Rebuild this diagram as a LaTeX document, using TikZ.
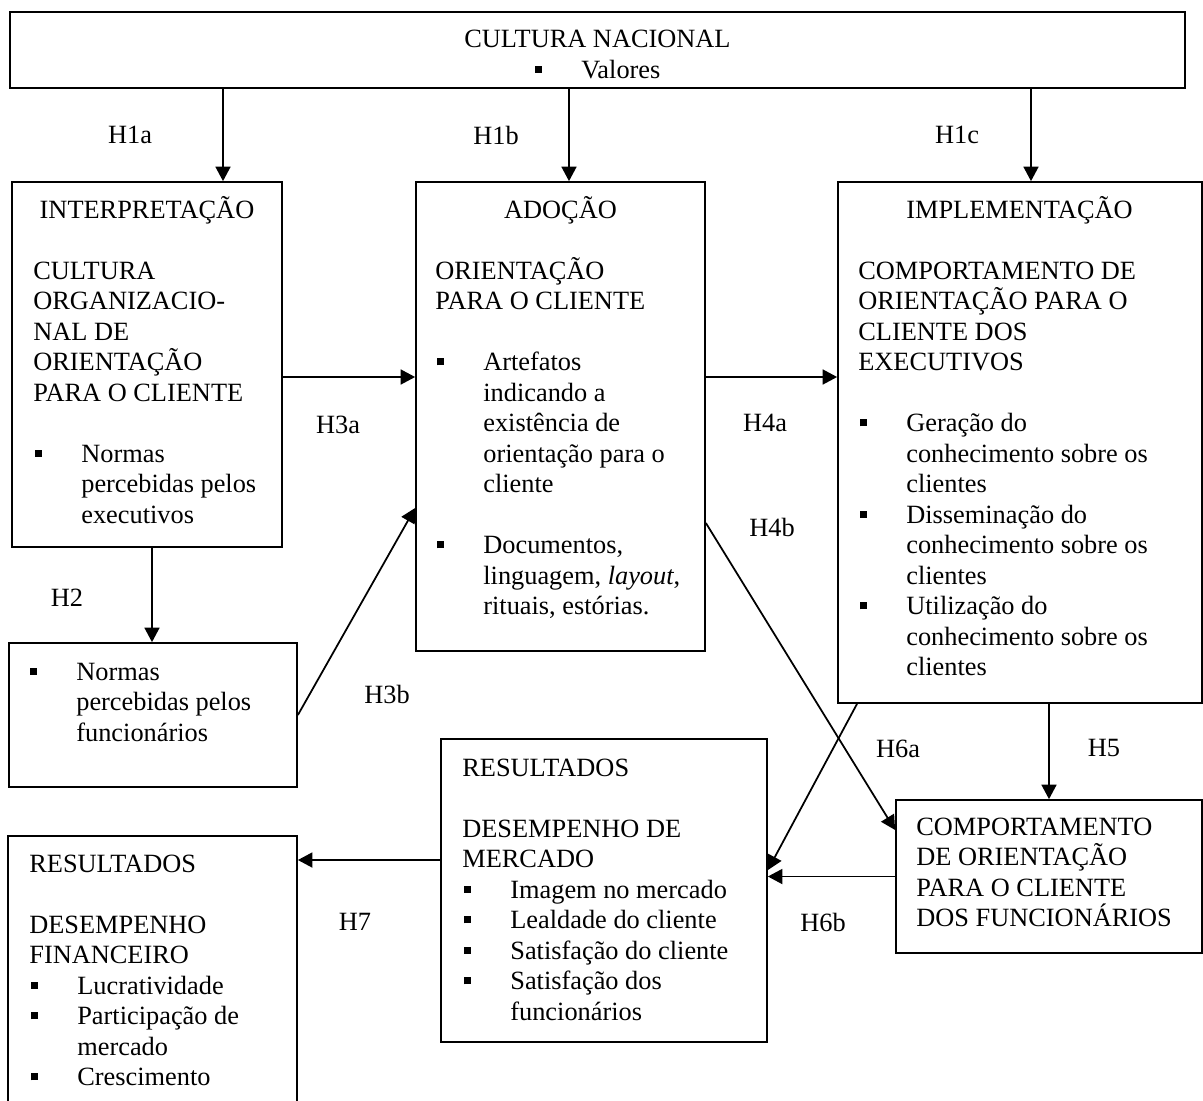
\documentclass[tikz,border=0pt]{standalone}
\usepackage{fontspec}
\setmainfont{Liberation Serif}
\usetikzlibrary{arrows.meta,fit}
\newcommand{\fs}{\fontsize{15}{17.36}\selectfont}
\newcommand{\sqbul}{\makebox[0.96cm][l]{\hspace{0.04cm}\rule[0.105cm]{0.14cm}{0.14cm}}}
\newcommand{\sqind}{\hspace*{0.96cm}}
\newcommand{\gap}{\\[0.61cm]}
\tikzset{
  box/.style={draw, line width=1pt, inner sep=0pt},
  txt/.style={anchor=base west, inner sep=0pt, font=\fs},
  ttl/.style={anchor=base, inner sep=0pt, font=\fs},
  lab/.style={font=\fs},
  arr/.style={-{Triangle[length=0.29cm,width=0.3cm]}, line width=1pt}
}
\begin{document}
\begin{tikzpicture}[x=0.02cm, y=-0.02cm]
      \useasboundingbox (0,0) rectangle (1203,1100);
      \clip (0,0) rectangle (1203,1100);
      \node[box, fit={(10,12) (1185,88)}] (nacional) {};
      \node[box, fit={(12,182) (282,547)}] (interp) {};
      \node[box, fit={(416,182) (705,651)}] (adocao) {};
      \node[box, fit={(838,182) (1202,703)}] (implem) {};
      \node[box, fit={(9,643) (297,787)}] (normfunc) {};
      \node[box, fit={(441,739) (767,1042)}] (mercado) {};
      \node[box, fit={(896,800) (1202,953)}] (comport) {};
      \node[box, fit={(8,836) (297,1130)}] (financ) {};

      \node[ttl] (nacional-t) at (597.5,47) {CULTURA NACIONAL};
      \node[txt] (nacional-v) at (533,78) {\sqbul Valores};
      \node[ttl] (interp-t) at (147,218) {INTERPRETAÇÃO};
      \node[ttl] (adocao-t) at (560.5,218) {ADOÇÃO};
      \node[ttl] (implem-t) at (1019.5,218) {IMPLEMENTAÇÃO};

      \node[txt] (interp-x) at (33,279) {\parbox[t]{8cm}{\raggedright
        CULTURA\\ ORGANIZACIO-\\ NAL DE\\ ORIENTAÇÃO\\ PARA O CLIENTE\gap
        \sqbul Normas\\ \sqind percebidas pelos\\ \sqind executivos}};
      \node[txt] (adocao-x) at (435,279) {\parbox[t]{8cm}{\raggedright
        ORIENTAÇÃO\\ PARA O CLIENTE\gap
        \sqbul Artefatos\\ \sqind indicando a\\ \sqind existência de\\
        \sqind orientação para o\\ \sqind cliente\gap
        \sqbul Documentos,\\ \sqind linguagem, \textit{layout},\\ \sqind rituais, estórias.}};
      \node[txt] (implem-x) at (858,279) {\parbox[t]{8cm}{\raggedright
        COMPORTAMENTO DE\\ ORIENTAÇÃO PARA O\\ CLIENTE DOS\\ EXECUTIVOS\gap
        \sqbul Geração do\\ \sqind conhecimento sobre os\\ \sqind clientes\\
        \sqbul Disseminação do\\ \sqind conhecimento sobre os\\ \sqind clientes\\
        \sqbul Utilização do\\ \sqind conhecimento sobre os\\ \sqind clientes}};
      \node[txt] (normfunc-x) at (28,680) {\parbox[t]{8cm}{\raggedright
        \sqbul Normas\\ \sqind percebidas pelos\\ \sqind funcionários}};
      \node[txt] (mercado-x) at (462,776) {\parbox[t]{8cm}{\raggedright
        RESULTADOS\gap DESEMPENHO DE\\ MERCADO\\
        \sqbul Imagem no mercado\\ \sqbul Lealdade do cliente\\
        \sqbul Satisfação do cliente\\ \sqbul Satisfação dos\\ \sqind funcionários}};
      \node[txt] (comport-x) at (916,835) {\parbox[t]{8cm}{\raggedright
        COMPORTAMENTO\\ DE ORIENTAÇÃO\\ PARA O CLIENTE\\ DOS FUNCIONÁRIOS}};
      \node[txt] (financ-x) at (29,872) {\parbox[t]{8cm}{\raggedright
        RESULTADOS\gap DESEMPENHO\\ FINANCEIRO\\
        \sqbul Lucratividade\\ \sqbul Participação de\\ \sqind mercado\\
        \sqbul Crescimento}};

      \coordinate (c1a) at (223,0);
      \coordinate (c1b) at (569,0);
      \coordinate (c1c) at (1031,0);
      \coordinate (c2) at (152,0);
      \coordinate (c34) at (0,377);
      \coordinate (c3b) at (0,508);
      \coordinate (c4b) at (0,523);
      \coordinate (c4bt) at (0,830);
      \coordinate (c6a) at (857,0);
      \coordinate (c6at) at (0,870);
      \coordinate (c7) at (0,860);

      \draw[arr] (nacional.south -| c1a) -- (interp.north -| c1a);
      \draw[arr] (nacional.south -| c1b) -- (adocao.north -| c1b);
      \draw[arr] (nacional.south -| c1c) -- (implem.north -| c1c);
      \draw[arr] (interp.east |- c34) -- (adocao.west |- c34);
      \draw[arr] (adocao.east |- c34) -- (implem.west |- c34);
      \draw[arr] (interp.south -| c2) -- (normfunc.north -| c2);
      \draw[arr] (normfunc.east) -- (adocao.west |- c3b);
      \draw[arr] (adocao.east |- c4b) -- (comport.west |- c4bt);
      \draw[arr] (implem.south -| c6a) -- (mercado.east |- c6at);
      \draw[arr] (implem.south -| comport.north) -- (comport.north);
      \draw[arr] (comport.west) -- (mercado.east |- comport.west);
      \draw[arr] (mercado.west |- c7) -- (financ.east |- c7);

      \node[lab] (h1a) at (130,135) {H1a};
      \node[lab] (h1b) at (496,135) {H1b};
      \node[lab] (h1c) at (957,135) {H1c};
      \node[lab] (h2) at (67,598) {H2};
      \node[lab] (h3a) at (338,425) {H3a};
      \node[lab] (h3b) at (387,694) {H3b};
      \node[lab] (h4a) at (765,423) {H4a};
      \node[lab] (h4b) at (772,527) {H4b};
      \node[lab] (h5) at (1104,748) {H5};
      \node[lab] (h6a) at (898,749) {H6a};
      \node[lab] (h6b) at (823,922) {H6b};
      \node[lab] (h7) at (355,922) {H7};
\end{tikzpicture}
\end{document}
